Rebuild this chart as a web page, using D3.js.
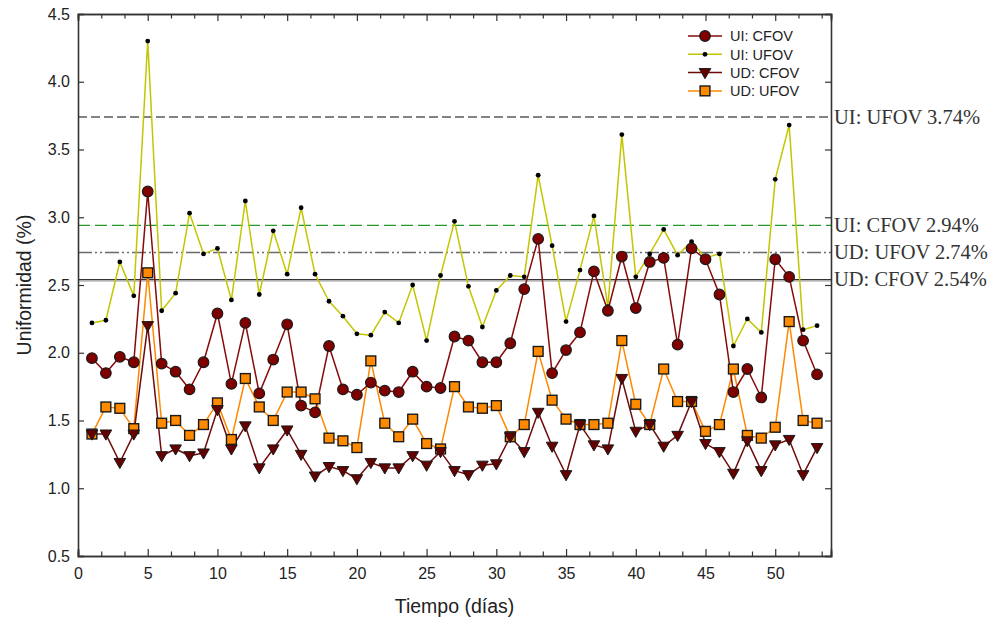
<!DOCTYPE html>
<html>
<head>
<meta charset="utf-8">
<script src="https://cdn.jsdelivr.net/npm/d3@7"></script>
<style>
  html, body { margin: 0; padding: 0; background: #fff; }
  svg { display: block; }
</style>
</head>
<body>
<svg id="chart" width="995" height="622"></svg>
<script>
// Days of measurement
const days = d3.range(1, 54);

// Integral uniformity, central field of view (%)
const uiCfov = [1.96, 1.85, 1.97, 1.93, 3.19, 1.92, 1.86, 1.73, 1.93, 2.29,
                1.77, 2.22, 1.70, 1.95, 2.21, 1.61, 1.56, 2.05, 1.73, 1.69,
                1.78, 1.72, 1.71, 1.86, 1.75, 1.74, 2.12, 2.09, 1.93, 1.93,
                2.07, 2.47, 2.84, 1.85, 2.02, 2.15, 2.60, 2.31, 2.71, 2.33,
                2.67, 2.70, 2.06, 2.77, 2.69, 2.43, 1.71, 1.88, 1.67, 2.69,
                2.56, 2.09, 1.84];

// Integral uniformity, useful field of view (%)
const uiUfov = [2.22, 2.24, 2.67, 2.42, 4.30, 2.31, 2.44, 3.03, 2.73, 2.77,
                2.39, 3.12, 2.43, 2.90, 2.58, 3.07, 2.58, 2.38, 2.27, 2.14,
                2.13, 2.30, 2.22, 2.50, 2.09, 2.57, 2.97, 2.49, 2.19, 2.46,
                2.57, 2.56, 3.31, 2.79, 2.23, 2.61, 3.01, 2.34, 3.61, 2.56,
                2.73, 2.91, 2.72, 2.82, 2.70, 2.73, 2.05, 2.25, 2.15, 3.28,
                3.68, 2.17, 2.20];

// Differential uniformity, central field of view (%)
const udCfov = [1.40, 1.40, 1.19, 1.40, 2.20, 1.24, 1.29, 1.24, 1.26, 1.58,
                1.29, 1.46, 1.15, 1.29, 1.43, 1.25, 1.09, 1.16, 1.13, 1.07,
                1.19, 1.15, 1.15, 1.24, 1.17, 1.27, 1.13, 1.10, 1.17, 1.18,
                1.38, 1.27, 1.56, 1.31, 1.10, 1.47, 1.32, 1.29, 1.81, 1.42,
                1.47, 1.31, 1.39, 1.64, 1.33, 1.27, 1.11, 1.35, 1.13, 1.32,
                1.36, 1.10, 1.30];

// Differential uniformity, useful field of view (%)
const udUfov = [1.40, 1.60, 1.59, 1.44, 2.59, 1.48, 1.50, 1.39, 1.47, 1.63,
                1.36, 1.81, 1.60, 1.50, 1.71, 1.71, 1.66, 1.37, 1.35, 1.30,
                1.94, 1.48, 1.38, 1.51, 1.33, 1.29, 1.75, 1.60, 1.59, 1.61,
                1.38, 1.47, 2.01, 1.65, 1.51, 1.47, 1.47, 1.48, 2.09, 1.62,
                1.47, 1.88, 1.64, 1.64, 1.42, 1.47, 1.88, 1.39, 1.37, 1.45,
                2.23, 1.50, 1.48];

// Tolerance limits (%)
const limitNames = ["UI: UFOV", "UI: CFOV", "UD: UFOV", "UD: CFOV"];
const limitValues = [3.74, 2.94, 2.74, 2.54];

// Axis ticks
const xTicks = [0, 5, 10, 15, 20, 25, 30, 35, 40, 45, 50];
const yTicks = [0.5, 1.0, 1.5, 2.0, 2.5, 3.0, 3.5, 4.0, 4.5];

const svg = d3.select("#chart");
const margin = { left: 78, right: 164, top: 14, bottom: 66 };
const W = 995, H = 622;
const x = d3.scaleLinear().domain([0, 54]).range([margin.left, W - margin.right]);
const y = d3.scaleLinear().domain([0.5, 4.5]).range([H - margin.bottom, margin.top]);

const axisColor = "#333";
const sans = "'Liberation Sans', Arial, sans-serif";
const serif = "'Liberation Serif', 'Times New Roman', serif";

// Tolerance limit lines
const limitStyles = [
  { stroke: "#5a5a5a", dash: "9,4", width: 1.3 },
  { stroke: "#22992a", dash: "12,5", width: 1.1 },
  { stroke: "#6a6a6a", dash: "14,3,2,3,2,3", width: 1.7 },
  { stroke: "#333333", dash: null, width: 1.2 }
];
const gLim = svg.append("g");
limitValues.forEach((v, i) => {
  if (i === 3) {
    gLim.append("line")
      .attr("x1", x(0)).attr("x2", x(54))
      .attr("y1", y(v) + 1.5).attr("y2", y(v) + 1.5)
      .attr("stroke", "#bbb").attr("stroke-width", 1.2);
  }
  gLim.append("line")
    .attr("x1", x(0)).attr("x2", x(54))
    .attr("y1", y(v)).attr("y2", y(v))
    .attr("stroke", limitStyles[i].stroke)
    .attr("stroke-width", limitStyles[i].width)
    .attr("stroke-dasharray", limitStyles[i].dash);
  gLim.append("text")
    .attr("x", x(54) + 3).attr("y", y(v))
    .attr("dy", "0.32em")
    .attr("font-family", serif).attr("font-size", 20.5)
    .attr("fill", "#333")
    .text(`${limitNames[i]} ${v.toFixed(2)}%`);
});

// Series definitions
const series = [
  { name: "UI: UFOV", values: uiUfov, line: "#c3c600", lw: 1.5, marker: "dot" },
  { name: "UD: UFOV", values: udUfov, line: "#ff8800", lw: 1.5, marker: "square", fill: "#ff8a00" },
  { name: "UD: CFOV", values: udCfov, line: "#6e0b0b", lw: 1.5, marker: "triangle", fill: "#640000" },
  { name: "UI: CFOV", values: uiCfov, line: "#860a0a", lw: 1.5, marker: "circle", fill: "#800000" }
];

function drawMarker(g, type, cx, cy, fill) {
  if (type === "dot") {
    g.append("circle").attr("cx", cx).attr("cy", cy).attr("r", 2.4).attr("fill", "#000");
  } else if (type === "circle") {
    g.append("circle").attr("cx", cx).attr("cy", cy).attr("r", 5.3)
      .attr("fill", fill).attr("stroke", "#1a1a1a").attr("stroke-width", 1.2);
  } else if (type === "square") {
    g.append("rect").attr("x", cx - 4.9).attr("y", cy - 4.9).attr("width", 9.8).attr("height", 9.8)
      .attr("fill", fill).attr("stroke", "#1a1a1a").attr("stroke-width", 1.4);
  } else if (type === "triangle") {
    const s = 5.8;
    g.append("path")
      .attr("d", `M${cx - s},${cy - s * 0.7}L${cx + s},${cy - s * 0.7}L${cx},${cy + s * 1.05}Z`)
      .attr("fill", fill).attr("stroke", "#1a1a1a").attr("stroke-width", 1);
  }
}

const lineGen = d3.line().x((d, i) => x(days[i])).y(d => y(d));

// Lines first, then markers on top
series.forEach(s => {
  svg.append("path").datum(s.values)
    .attr("d", lineGen)
    .attr("fill", "none")
    .attr("stroke", s.line)
    .attr("stroke-width", s.lw)
    .attr("stroke-linejoin", "round");
});
series.forEach(s => {
  const g = svg.append("g");
  s.values.forEach((v, i) => drawMarker(g, s.marker, x(days[i]), y(v), s.fill));
});

// Frame and axes with inward ticks
const minorX = d3.range(0, 54.01, 5 / 3).filter(v => Math.abs(v / 5 - Math.round(v / 5)) > 1e-6);

const axBottom = svg.append("g").attr("transform", `translate(0,${y(0.5)})`)
  .call(d3.axisBottom(x).tickValues(xTicks).tickSize(-7).tickPadding(12).tickFormat(d3.format("d")));
const axBottomMinor = svg.append("g").attr("transform", `translate(0,${y(0.5)})`)
  .call(d3.axisBottom(x).tickValues(minorX).tickSize(-4.5).tickFormat(""));
const axTop = svg.append("g").attr("transform", `translate(0,${y(4.5)})`)
  .call(d3.axisTop(x).tickValues(xTicks).tickSize(-7).tickFormat(""));
const axTopMinor = svg.append("g").attr("transform", `translate(0,${y(4.5)})`)
  .call(d3.axisTop(x).tickValues(minorX).tickSize(-4.5).tickFormat(""));
const axLeft = svg.append("g").attr("transform", `translate(${x(0)},0)`)
  .call(d3.axisLeft(y).tickValues(yTicks).tickSize(-6).tickPadding(8).tickFormat(d3.format(".1f")));
const axRight = svg.append("g").attr("transform", `translate(${x(54)},0)`)
  .call(d3.axisRight(y).tickValues(yTicks).tickSize(-6).tickFormat(""));

[axBottom, axBottomMinor, axTop, axTopMinor, axLeft, axRight].forEach(g => {
  g.select(".domain").attr("stroke", axisColor).attr("stroke-width", 1.6);
  g.selectAll(".tick line").attr("stroke", axisColor).attr("stroke-width", 1.2);
  g.selectAll("text").attr("font-family", sans).attr("font-size", 16).attr("fill", "#222");
});

// Axis titles
svg.append("text")
  .attr("x", x(27)).attr("y", 613)
  .attr("text-anchor", "middle")
  .attr("font-family", sans).attr("font-size", 19.5).attr("fill", "#222")
  .text("Tiempo (días)");
svg.append("text")
  .attr("transform", `translate(31,${(y(0.5) + y(4.5)) / 2}) rotate(-90)`)
  .attr("text-anchor", "middle")
  .attr("font-family", sans).attr("font-size", 19.5).attr("fill", "#222")
  .text("Uniformidad (%)");

// Legend
const legendOrder = [series[3], series[0], series[2], series[1]];
const legend = svg.append("g");
legendOrder.forEach((s, i) => {
  const ly = 36 + i * 18.3;
  legend.append("line")
    .attr("x1", 688).attr("x2", 722).attr("y1", ly).attr("y2", ly)
    .attr("stroke", s.line).attr("stroke-width", 1.5);
  drawMarker(legend, s.marker, 705, ly, s.fill);
  legend.append("text")
    .attr("x", 730).attr("y", ly).attr("dy", "0.36em")
    .attr("font-family", sans).attr("font-size", 14.5).attr("fill", "#222")
    .text(s.name);
});
</script>
</body>
</html>
